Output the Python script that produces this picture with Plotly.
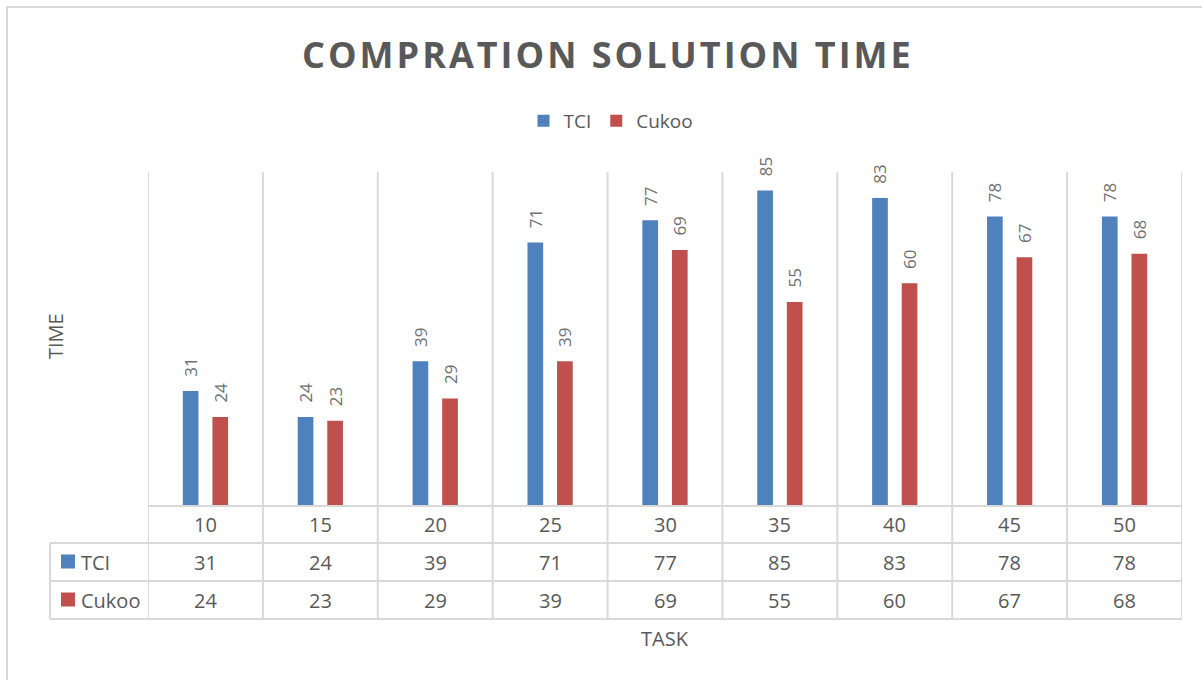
import plotly.graph_objects as go

tasks = ["10", "15", "20", "25", "30", "35", "40", "45", "50"]
tci = [31, 24, 39, 71, 77, 85, 83, 78, 78]
cukoo = [24, 23, 29, 39, 69, 55, 60, 67, 68]
series_names = ["TCI", "Cukoo"]
colors = ["#4f81bd", "#c0504d"]

W, H = 1202, 680
L, R, T, B = 148, 20, 172, 174
PW, PH = W - L - R, H - T - B

def px(x):
    return (x - L) / PW

def py(y):
    return (H - B - y) / PH

FONT = "Open Sans"
GRAY = "#595959"
GRID = "#d9d9d9"

fig = go.Figure()
for name, vals, col in zip(series_names, [tci, cukoo], colors):
    fig.add_trace(go.Bar(
        x=list(range(len(tasks))), y=vals, name=name,
        marker=dict(color=col, line=dict(width=0)),
        text=["\u2002\u2009" + str(v) for v in vals],
        textposition="outside", textangle=-90, cliponaxis=False,
        constraintext="none",
        textfont=dict(family=FONT, size=17, color="#707070"),
    ))

shapes = []
n = len(tasks)
for i in range(n + 1):
    shapes.append(dict(type="line", xref="x", yref="paper",
                       x0=i - 0.5, x1=i - 0.5, y0=py(619), y1=1,
                       line=dict(color=GRID, width=2)))
shapes.append(dict(type="line", xref="paper", yref="paper",
                   x0=0, x1=1, y0=0, y1=0, line=dict(color=GRID, width=2)))
for yy in [543, 581, 619]:
    shapes.append(dict(type="line", xref="paper", yref="paper",
                       x0=px(50), x1=1, y0=py(yy), y1=py(yy),
                       line=dict(color=GRID, width=2)))
shapes.append(dict(type="line", xref="paper", yref="paper",
                   x0=px(50), x1=px(50), y0=py(543), y1=py(619),
                   line=dict(color=GRID, width=2)))
for row_c, col in zip([561.5, 599.5], colors):
    shapes.append(dict(type="rect", xref="paper", yref="paper",
                       x0=px(61), x1=px(75), y0=py(row_c - 7), y1=py(row_c + 7),
                       fillcolor=col, line=dict(width=0)))
shapes.append(dict(type="rect", xref="paper", yref="paper",
                   x0=px(7), x1=px(1215), y0=py(7), y1=py(700),
                   line=dict(color=GRID, width=2), fillcolor="rgba(0,0,0,0)"))

ann = []
row_centers = [524.5, 562, 600]
def txt(x, y, text, size=20, xref="paper", **kw):
    d = dict(x=x, y=y, xref=xref, yref="paper", text=text, showarrow=False,
             xanchor=kw.pop("xanchor", "center"), yanchor="middle",
             font=dict(family=FONT, size=size, color=GRAY))
    d.update(kw)
    ann.append(d)

for i, t in enumerate(tasks):
    txt(i, py(row_centers[0]), t, xref="x")
    for r, vals in zip(row_centers[1:], [tci, cukoo]):
        txt(i, py(r), str(vals[i]), xref="x")
for r, name in zip(row_centers[1:], series_names):
    txt(px(79), py(r), name, xanchor="left")
txt(px(665), py(638), "TASK")
txt(px(55), py(336), "TIME", textangle=-90)
txt(px(608), py(54), '<span style="letter-spacing:3px"><b>COMPRATION SOLUTION TIME</b></span>', size=36)

fig.update_layout(
    width=W, height=H,
    margin=dict(l=L, r=R, t=T, b=B),
    paper_bgcolor="white", plot_bgcolor="white",
    barmode="group", bargap=0.485, bargroupgap=0.47,
    showlegend=True,
    legend=dict(orientation="h", x=px(611), xanchor="center", y=py(121), yanchor="middle",
                font=dict(family=FONT, size=19, color=GRAY), itemwidth=30,
                traceorder="normal"),
    xaxis=dict(range=[-0.5, n - 0.5], showticklabels=False, showgrid=False,
               zeroline=False, showline=False, ticks=""),
    yaxis=dict(range=[0, 90], showticklabels=False, showgrid=False,
               zeroline=False, showline=False, ticks=""),
    shapes=shapes, annotations=ann,
)

fig.write_html("out.html")
